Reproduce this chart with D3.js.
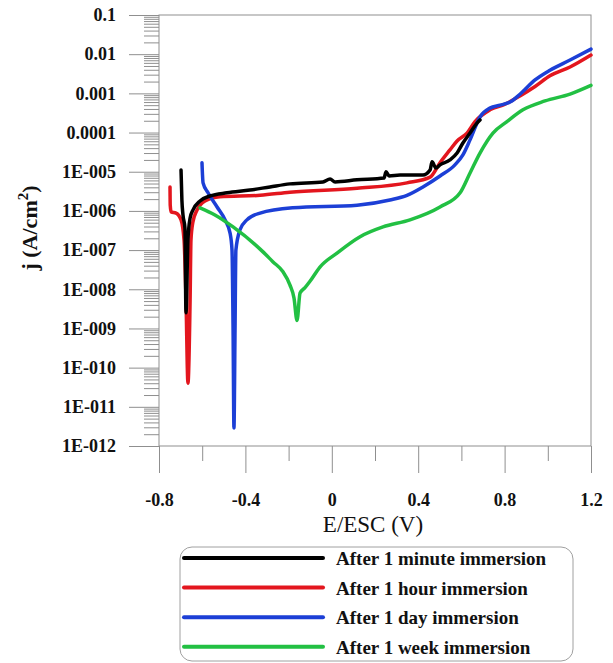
<!DOCTYPE html>
<html>
<head>
<meta charset="utf-8">
<script src="https://cdn.jsdelivr.net/npm/d3@7"></script>
<style>
body { margin: 0; background: #fff; }
svg { display: block; font-family: "Liberation Serif", "Times New Roman", serif; }
</style>
</head>
<body>
<svg width="613" height="663"></svg>
<script>
// data: potential E (V vs ESC) and current density j (A/cm2)
var eMinute = [-0.698, -0.694, -0.689, -0.680, -0.675, -0.666, -0.656, -0.643, -0.610, -0.564, -0.485, -0.379, -0.286, -0.194, -0.041, -0.008, 0.015, 0.117, 0.242, 0.251, 0.265, 0.316, 0.422, 0.455, 0.464, 0.482, 0.501, 0.547, 0.580, 0.607, 0.640, 0.672, 0.686];
var jMinute = [1.1e-5, 1.9e-6, 7.9e-7, 3.7e-7, 2.5e-9, 1.8e-7, 6.6e-7, 1.05e-6, 1.8e-6, 2.4e-6, 2.9e-6, 3.4e-6, 4.1e-6, 4.9e-6, 5.5e-6, 6.5e-6, 5.5e-6, 6.2e-6, 6.9e-6, 1.0e-5, 7.8e-6, 8.2e-6, 8.2e-6, 1.1e-5, 1.8e-5, 1.25e-5, 1.5e-5, 2.0e-5, 3.0e-5, 5.4e-5, 9.7e-5, 1.75e-4, 2.1e-4];

var eHour = [-0.749, -0.748, -0.744, -0.721, -0.698, -0.684, -0.675, -0.666, -0.656, -0.652, -0.643, -0.624, -0.587, -0.518, -0.332, -0.194, 0.117, 0.348, 0.455, 0.501, 0.547, 0.580, 0.626, 0.663, 0.732, 0.802, 0.871, 0.941, 1.010, 1.103, 1.2];
var jHour = [4.1e-6, 1.4e-6, 9.4e-7, 8.8e-7, 5.9e-7, 1.8e-7, 5.4e-9, 4e-11, 5.4e-9, 1.8e-7, 5.2e-7, 1.05e-6, 1.8e-6, 2.3e-6, 2.5e-6, 3.0e-6, 3.8e-6, 5.2e-6, 7.3e-6, 1.7e-5, 3.6e-5, 6.1e-5, 9.7e-5, 1.9e-4, 3.8e-4, 5.3e-4, 8.6e-4, 1.5e-3, 2.8e-3, 4.7e-3, 9.5e-3];

var eDay = [-0.601, -0.596, -0.573, -0.531, -0.494, -0.471, -0.462, -0.457, -0.453, -0.448, -0.444, -0.425, -0.393, -0.332, -0.180, 0.117, 0.269, 0.348, 0.422, 0.501, 0.570, 0.607, 0.640, 0.686, 0.732, 0.779, 0.825, 0.871, 0.941, 1.010, 1.103, 1.2];
var jDay = [1.7e-5, 5.2e-6, 2.9e-6, 1.26e-6, 5.9e-7, 2.7e-7, 1.0e-7, 9e-10, 2.9e-12, 9e-10, 1.0e-7, 3.3e-7, 5.9e-7, 8.8e-7, 1.2e-6, 1.4e-6, 1.9e-6, 2.5e-6, 4.1e-6, 7.8e-6, 1.5e-5, 2.7e-5, 6.5e-5, 2.5e-4, 4.2e-4, 5.0e-4, 6.0e-4, 9.5e-4, 2.2e-3, 3.9e-3, 7.1e-3, 1.35e-2];

var eWeek = [-0.610, -0.541, -0.457, -0.332, -0.272, -0.226, -0.194, -0.175, -0.161, -0.147, -0.124, -0.101, -0.055, 0.024, 0.131, 0.237, 0.362, 0.501, 0.594, 0.640, 0.686, 0.746, 0.811, 0.885, 0.987, 1.103, 1.2];
var jWeek = [1.2e-6, 7.9e-7, 3.9e-7, 1.06e-7, 5.0e-8, 2.8e-8, 1.3e-8, 6.0e-9, 1.6e-9, 8.0e-9, 1.1e-8, 1.6e-8, 3.7e-8, 8.4e-8, 2.2e-7, 3.9e-7, 5.9e-7, 1.26e-6, 2.9e-6, 9.3e-6, 3.0e-5, 9.7e-5, 1.9e-4, 3.8e-4, 6.4e-4, 9.6e-4, 1.6e-3];

var seriesNames = ['After 1 minute immersion', 'After 1 hour immersion', 'After 1 day immersion', 'After 1 week immersion'];
var seriesColors = ['#000000', '#e3161e', '#1c3fd6', '#22c043'];

var xTicks = [-0.8, -0.4, 0, 0.4, 0.8, 1.2];
var xTickLabels = ['-0.8', '-0.4', '0', '0.4', '0.8', '1.2'];
var xMinorTicks = [-0.6, -0.2, 0.2, 0.6, 1.0];
var yTicks = [1e-1, 1e-2, 1e-3, 1e-4, 1e-5, 1e-6, 1e-7, 1e-8, 1e-9, 1e-10, 1e-11, 1e-12];
var yTickLabels = ['0.1', '0.01', '0.001', '0.0001', '1E-005', '1E-006', '1E-007', '1E-008', '1E-009', '1E-010', '1E-011', '1E-012'];

var svg = d3.select('svg');
var gray = '#8f8f8f';

var x = d3.scaleLinear().domain([-0.8, 1.2]).range([159, 591]);
var y = d3.scaleLog().domain([1e-12, 0.1]).range([446, 15]);

// minor y ticks 2..9 in every decade
var yMinor = [];
yTicks.slice(1).forEach(function (t) {
  for (var k = 2; k <= 9; k++) yMinor.push(t * k);
});

var gyMinor = svg.append('g').attr('transform', 'translate(159,0)')
  .call(d3.axisLeft(y).tickValues(yMinor).tickSize(15).tickFormat(''));
var gy = svg.append('g').attr('transform', 'translate(159,0)')
  .call(d3.axisLeft(y).tickValues(yTicks).tickSize(30).tickPadding(13)
    .tickFormat(function (d, i) { return yTickLabels[i]; }));

var gxMinor = svg.append('g').attr('transform', 'translate(0,446)')
  .call(d3.axisBottom(x).tickValues(xMinorTicks).tickSize(15).tickFormat(''));
var gx = svg.append('g').attr('transform', 'translate(0,446)')
  .call(d3.axisBottom(x).tickValues(xTicks).tickSize(27).tickPadding(20)
    .tickFormat(function (d, i) { return xTickLabels[i]; }));

[gyMinor, gy, gxMinor, gx].forEach(function (g) {
  g.select('.domain').remove();
  g.selectAll('line').attr('stroke', gray);
  g.selectAll('text').attr('fill', '#111').attr('font-size', 18).attr('font-weight', 'bold')
    .attr('font-family', '"Liberation Serif", "Times New Roman", serif');
});

// frame
svg.append('rect').attr('x', 159).attr('y', 15).attr('width', 432).attr('height', 431)
  .attr('fill', 'none').attr('stroke', gray).attr('stroke-width', 1);

// curves
var series = [
  { e: eHour, j: jHour, c: seriesColors[1] },
  { e: eDay, j: jDay, c: seriesColors[2] },
  { e: eMinute, j: jMinute, c: seriesColors[0] },
  { e: eWeek, j: jWeek, c: seriesColors[3] }
];
var line = d3.line().curve(d3.curveMonotoneX)
  .x(function (d) { return x(d[0]); }).y(function (d) { return y(d[1]); });
series.forEach(function (s) {
  svg.append('path').attr('d', line(d3.zip(s.e, s.j)))
    .attr('fill', 'none').attr('stroke', s.c).attr('stroke-width', 3.5)
    .attr('stroke-linejoin', 'round').attr('stroke-linecap', 'round');
});

// axis titles
svg.append('text').attr('x', 373).attr('y', 532).attr('text-anchor', 'middle')
  .attr('font-size', 23).attr('fill', '#111').text('E/ESC (V)');

var yl = svg.append('text').attr('transform', 'translate(37,228) rotate(-90)')
  .attr('text-anchor', 'middle').attr('font-size', 22).attr('font-weight', 'bold').attr('fill', '#111');
yl.append('tspan').text('j (A/cm');
yl.append('tspan').attr('font-size', 15).attr('dy', -9).text('2');
yl.append('tspan').attr('dy', 9).text(')');

// legend
svg.append('rect').attr('x', 180).attr('y', 547).attr('width', 393).attr('height', 114)
  .attr('rx', 12).attr('fill', '#fff').attr('stroke', '#a0a0a0').attr('stroke-width', 1);
seriesNames.forEach(function (name, i) {
  var ly = 558 + i * 29.6;
  svg.append('line').attr('x1', 184).attr('x2', 323).attr('y1', ly).attr('y2', ly)
    .attr('stroke', seriesColors[i]).attr('stroke-width', 4).attr('stroke-linecap', 'round');
  svg.append('text').attr('x', 336).attr('y', ly + 7).attr('font-size', 19).attr('font-weight', 'bold')
    .attr('fill', '#111').text(name);
});
</script>
</body>
</html>
